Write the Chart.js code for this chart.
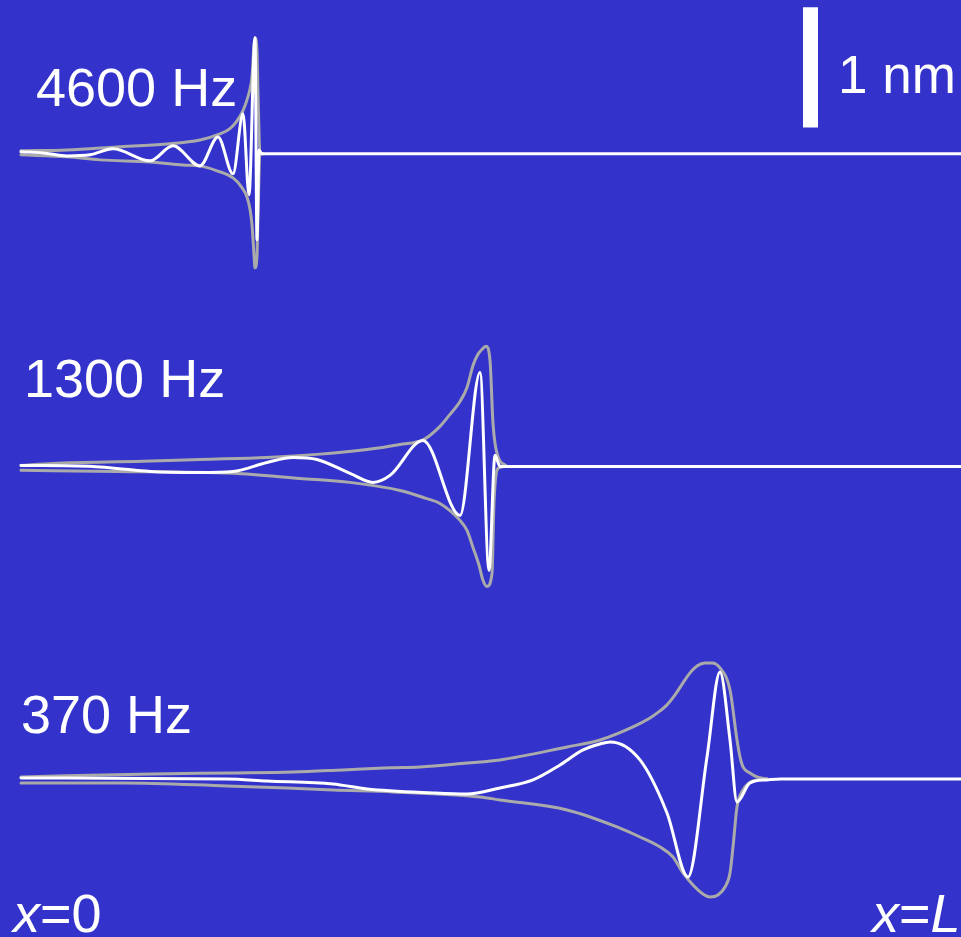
<!DOCTYPE html>
<html>
<head>
<meta charset="utf-8">
<script src="https://cdn.jsdelivr.net/npm/chart.js@4/dist/chart.umd.min.js"></script>
<style>
  html, body { margin: 0; padding: 0; background: #3333CC; overflow: hidden; }
  #wrap { width: 961px; height: 937px; }
</style>
</head>
<body>
<div id="wrap"><canvas id="c" width="961" height="937"></canvas></div>
<script>
// Position along the membrane (arbitrary units, 0 = base) and displacement in nm.
// ---- 4600 Hz ----
const wave4600 = [[0,0.017],[22,0.008],[46,-0.017],[69,-0.008],[92,0.042],[129,-0.058],[152,0.067],[179,-0.1],[197,0.141],[212,-0.166],[222,0.333],[228,-0.341],[234,0.965],[236,-0.715],[238,0.033],[241,0],[940,0]];
const envUp4600 = [[0,0.025],[46,0.033],[96,0.058],[146,0.083],[179,0.116],[199,0.166],[209,0.21],[216,0.275],[222,0.36],[226,0.449],[229,0.54],[231,0.641],[233,0.907],[234,0.965],[236,0.85],[237,0.5],[239,0.01],[242,0]];
const envLo4600 = [[0,-0.008],[46,-0.025],[79,-0.05],[129,-0.067],[162,-0.092],[179,-0.1],[196,-0.141],[212,-0.2],[220,-0.27],[226,-0.358],[229,-0.46],[231,-0.591],[233,-0.84],[234,-0.948],[236,-0.85],[237,-0.5],[239,-0.01],[242,0]];
// ---- 1300 Hz ----
const wave1300 = [[0,0.008],[72,0],[96,-0.017],[129,-0.042],[179,-0.05],[212,-0.042],[246,0.033],[272,0.075],[296,0.058],[329,-0.058],[352,-0.133],[369,-0.075],[402,0.216],[439,-0.408],[459,0.782],[468,-0.865],[474,0.092],[479,0],[940,0]];
const envUp1300 = [[0,0.008],[32,0.025],[122,0.042],[179,0.058],[246,0.075],[296,0.1],[346,0.141],[379,0.183],[402,0.22],[419,0.333],[429,0.433],[439,0.54],[446,0.657],[452,0.84],[457,0.932],[462,0.982],[465,1.0],[469,0.882],[472,0.358],[476,0.108],[486,0]];
const envLo1300 = [[0,-0.033],[96,-0.042],[212,-0.058],[279,-0.1],[329,-0.133],[379,-0.2],[405,-0.266],[419,-0.308],[439,-0.449],[446,-0.532],[452,-0.674],[458,-0.82],[462,-0.948],[466,-1.0],[471,-0.89],[473,-0.3],[477,-0.017],[484,0]];
// ---- 370 Hz ----
const wave370 = [[0,0.008],[206,0],[246,-0.017],[312,-0.042],[346,-0.083],[412,-0.116],[446,-0.125],[479,-0.075],[512,-0.008],[539,0.116],[562,0.241],[579,0.291],[589,0.308],[619,0.158],[646,-0.283],[667,-0.815],[686,0.183],[699,0.89],[709,0.324],[716,-0.191],[729,-0.033],[746,-0.008],[760,0],[940,0]];
const envUp370 = [[0,0.017],[132,0.042],[212,0.05],[272,0.058],[322,0.075],[369,0.092],[399,0.1],[446,0.133],[479,0.158],[546,0.266],[579,0.324],[612,0.433],[629,0.507],[639,0.566],[646,0.616],[654,0.699],[662,0.799],[669,0.882],[676,0.94],[684,0.965],[691,0.965],[699,0.924],[709,0.74],[716,0.324],[719,0.183],[722,0.1],[729,0.05],[736,0.017],[746,0]];
const envLo370 = [[0,-0.033],[102,-0.033],[206,-0.058],[266,-0.075],[312,-0.092],[372,-0.108],[459,-0.15],[479,-0.175],[546,-0.258],[596,-0.399],[619,-0.483],[639,-0.566],[652,-0.649],[662,-0.782],[672,-0.882],[682,-0.957],[689,-0.982],[697,-0.965],[704,-0.899],[709,-0.782],[712,-0.566],[716,-0.233],[722,-0.092],[732,-0.017],[746,0]];

const freqLabels = ['4600 Hz', '1300 Hz', '370 Hz'];
const scaleBarNm = 1;

// ---- layout / styling ----
const offsets = [6.5, 3.9, 1.3];
const WHITE = '#FFFFFF', GRAY = '#AAAAAA';
const toPts = (arr, off) => arr.map(p => ({x: p[0], y: p[1] + off}));

const traces = [
  {wave: wave4600, up: envUp4600, lo: envLo4600},
  {wave: wave1300, up: envUp1300, lo: envLo1300},
  {wave: wave370,  up: envUp370,  lo: envLo370}
];

const datasets = [];
traces.forEach((t, i) => {
  datasets.push({label: freqLabels[i] + ' wave', data: toPts(t.wave, offsets[i]), borderColor: WHITE, borderWidth: 3, order: 1});
  datasets.push({label: freqLabels[i] + ' env+', data: toPts(t.up, offsets[i]), borderColor: GRAY, borderWidth: 3, order: 2});
  datasets.push({label: freqLabels[i] + ' env-', data: toPts(t.lo, offsets[i]), borderColor: GRAY, borderWidth: 3, order: 2});
});
// 1 nm scale bar
datasets.push({label: 'scale', data: [{x: 789.5, y: 6.72}, {x: 789.5, y: 6.72 + scaleBarNm}], borderColor: WHITE, borderWidth: 15, borderCapStyle: 'butt', cubicInterpolationMode: 'default', tension: 0, order: 0});

const textPlugin = {
  id: 'texts',
  afterDraw(chart) {
    const ctx = chart.ctx;
    ctx.save();
    ctx.fillStyle = WHITE;
    ctx.textBaseline = 'alphabetic';
    ctx.textAlign = 'left';
    const F = 'Arial, "Liberation Sans", Helvetica, sans-serif';
    ctx.font = '54px ' + F;
    ctx.fillText(freqLabels[0], 36, 106);
    ctx.fillText(freqLabels[1], 24, 397);
    ctx.fillText(freqLabels[2], 21, 733);
    ctx.font = '53px ' + F;
    ctx.fillText(scaleBarNm + ' nm', 838, 93);
    // x=0
    let x = 13;
    ctx.font = 'italic 54px ' + F; ctx.fillText('x', x, 932); x += ctx.measureText('x').width;
    ctx.font = '54px ' + F; ctx.fillText('=0', x, 932);
    // x=L
    x = 872;
    ctx.font = 'italic 54px ' + F; ctx.fillText('x', x, 932); x += ctx.measureText('x').width;
    ctx.font = '54px ' + F; ctx.fillText('=', x, 932); x += ctx.measureText('=').width;
    ctx.font = 'italic 54px ' + F; ctx.fillText('L', x, 932);
    ctx.restore();
  }
};

new Chart(document.getElementById('c'), {
  type: 'line',
  data: {datasets},
  options: {
    responsive: false,
    animation: false,
    devicePixelRatio: 1,
    layout: {padding: 0},
    plugins: {legend: {display: false}, tooltip: {enabled: false}},
    elements: {
      point: {radius: 0, hoverRadius: 0},
      line: {cubicInterpolationMode: 'monotone', fill: false, borderJoinStyle: 'round', borderCapStyle: 'round'}
    },
    scales: {
      x: {type: 'linear', min: -21, max: 940, display: false},
      y: {type: 'linear', min: -0.015, max: 7.78, display: false}
    }
  },
  plugins: [textPlugin]
});
</script>
</body>
</html>
